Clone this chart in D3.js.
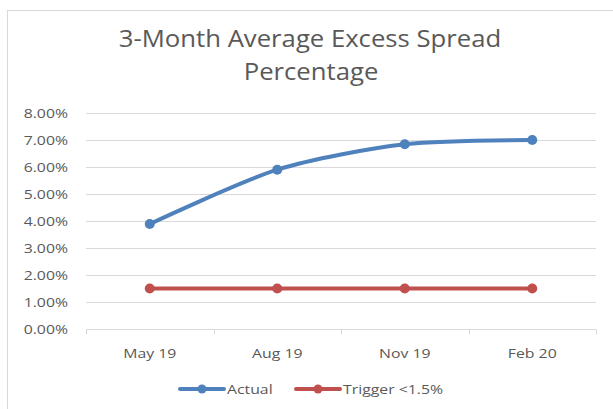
<!DOCTYPE html>
<html><head><meta charset="utf-8">
<script src="https://cdn.jsdelivr.net/npm/d3@7"></script>
<style>body{margin:0;background:#fff}svg{display:block}text{font-family:"Open Sans",sans-serif;fill:#595959}</style>
</head><body>
<svg id="c" width="613" height="409"></svg>
<script>
const categories = ["May 19", "Aug 19", "Nov 19", "Feb 20"];
const actual = [3.89, 5.90, 6.84, 7.00];
const trigger = [1.5, 1.5, 1.5, 1.5];
const yTicks = [0, 1, 2, 3, 4, 5, 6, 7, 8];
const seriesNames = ["Actual", "Trigger <1.5%"];
const colors = ["#4f81bd", "#c0504d"];

const svg = d3.select("#c");
const W = 613, H = 409;
const m = {left: 86, right: 17, top: 113, bottom: 80};

function stretch(sel, f) {
  sel.each(function() {
    const L = this.getComputedTextLength();
    d3.select(this).attr("textLength", L * f).attr("lengthAdjust", "spacingAndGlyphs");
  });
}

// chart border
svg.append("rect").attr("x", 7.5).attr("y", 10.5).attr("width", 640).attr("height", 420)
  .attr("fill", "#fff").attr("stroke", "#d9d9d9");

const x = d3.scaleBand().domain(categories).range([m.left, W - m.right]);
const y = d3.scaleLinear().domain([0, 8]).range([H - m.bottom, m.top]);

// gridlines
svg.append("g").selectAll("line").data(yTicks.filter(d => d > 0)).join("line")
  .attr("x1", m.left).attr("x2", W - m.right)
  .attr("y1", d => Math.round(y(d)) + 0.5).attr("y2", d => Math.round(y(d)) + 0.5)
  .attr("stroke", "#d9d9d9").attr("stroke-width", 1);

// y labels
const yAxis = d3.axisLeft(y).tickValues(yTicks).tickFormat(d => d.toFixed(2) + "%").tickSize(0).tickPadding(18);
const gy = svg.append("g").attr("transform", `translate(${m.left},0)`).call(yAxis);
gy.select(".domain").remove();
gy.selectAll("text").style("font-size", "13.5px").attr("fill", "#595959").style("font-family", '"Open Sans",sans-serif');
stretch(gy.selectAll("text"), 1.17);

// x axis
const gx = svg.append("g").attr("transform", `translate(0,${Math.round(y(0)) + 0.5})`);
gx.append("line").attr("x1", m.left).attr("x2", W - m.right).attr("stroke", "#d9d9d9");
const bounds = categories.map(c => x(c)).concat([x(categories[categories.length - 1]) + x.bandwidth()]);
gx.selectAll("line.t").data(bounds).join("line").attr("class", "t")
  .attr("x1", d => Math.round(d) + 0.5).attr("x2", d => Math.round(d) + 0.5)
  .attr("y1", 0).attr("y2", 5).attr("stroke", "#d9d9d9");
gx.selectAll("text").data(categories).join("text")
  .attr("x", d => x(d) + x.bandwidth() / 2).attr("y", 28)
  .attr("text-anchor", "middle").style("font-size", "13.5px").text(d => d);
stretch(gx.selectAll("text"), 1.17);

// lines
const line = d3.line().x((d, i) => x(categories[i]) + x.bandwidth() / 2).y(d => y(d));
const series = [actual, trigger];
series.forEach((s, k) => {
  svg.append("path").datum(s)
    .attr("d", line.curve(k === 0 ? d3.curveCardinal.tension(0.2) : d3.curveLinear))
    .attr("fill", "none").attr("stroke", colors[k]).attr("stroke-width", 4).attr("stroke-linecap", "round");
  svg.append("g").selectAll("circle").data(s).join("circle")
    .attr("cx", (d, i) => x(categories[i]) + x.bandwidth() / 2).attr("cy", d => y(d))
    .attr("r", 5).attr("fill", colors[k]);
});

// title
const title = svg.append("g").style("font-size", "24px");
title.append("text").attr("x", 310).attr("y", 47).attr("text-anchor", "middle").text("3-Month Average Excess Spread");
title.append("text").attr("x", 311).attr("y", 80).attr("text-anchor", "middle").text("Percentage");
stretch(title.selectAll("text"), 1.07);

// legend
const legX = [180, 296];
const lg = svg.append("g");
seriesNames.forEach((n, k) => {
  const g = lg.append("g").attr("transform", `translate(${legX[k]},389)`);
  g.append("line").attr("x1", 0).attr("x2", 44).attr("stroke", colors[k]).attr("stroke-width", 4).attr("stroke-linecap", "round");
  g.append("circle").attr("cx", 22).attr("r", 4.5).attr("fill", colors[k]);
  g.append("text").attr("x", 47).attr("y", 5).style("font-size", "13.5px").text(n);
});
stretch(lg.selectAll("text"), 1.17);
</script>
</body></html>
